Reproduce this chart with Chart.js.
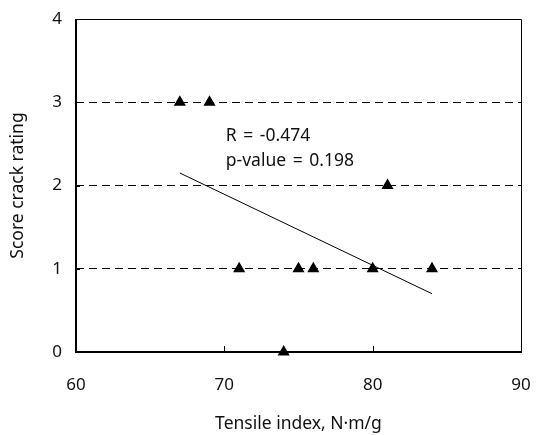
<!DOCTYPE html>
<html>
<head>
<meta charset="utf-8">
<script src="https://cdn.jsdelivr.net/npm/chart.js@4"></script>
<style>
  html, body { margin: 0; padding: 0; background: #fff; }
  #wrap { width: 541px; height: 435px; }
</style>
</head>
<body>
<div id="wrap"><canvas id="chart"></canvas></div>
<script>
// data
var tensile = [67, 69, 71, 74, 75, 76, 80, 81, 84];
var score = [3, 3, 1, 0, 1, 1, 1, 2, 1];
var fitX = [67, 84];
var fitY = [2.15, 0.70];
var xTicks = [60, 70, 80, 90];
var yTicks = [0, 1, 2, 3, 4];
var statLines = ['R = -0.474', 'p-value = 0.198'];

var FONT = '"Noto Sans", "DejaVu Sans", sans-serif';

var points = tensile.map(function(x, i) { return { x: x, y: score[i] }; });
var fit = fitX.map(function(x, i) { return { x: x, y: fitY[i] }; });

// frame, inward ticks and the R / p-value note
var extras = {
    id: 'extras',
    beforeDatasetsDraw: function(chart) {
        var c = chart.ctx, a = chart.chartArea, xs = chart.scales.x, ys = chart.scales.y;
        c.save();
        c.strokeStyle = '#000';
        c.lineWidth = 1;
        c.beginPath();
        c.moveTo(a.left, a.top + 0.5);
        c.lineTo(a.right + 0.5, a.top + 0.5);
        c.lineTo(a.right + 0.5, a.bottom);
        c.stroke();
        xs.ticks.forEach(function(t) {
            var px = Math.round(xs.getPixelForValue(t.value)) + 0.5;
            c.beginPath();
            c.moveTo(px, a.bottom);
            c.lineTo(px, a.bottom - 6);
            c.stroke();
        });
        ys.ticks.forEach(function(t) {
            var py = Math.round(ys.getPixelForValue(t.value)) + 0.5;
            c.beginPath();
            c.moveTo(a.left, py);
            c.lineTo(a.left + 4, py);
            c.stroke();
        });
        c.lineWidth = 2;
        c.beginPath();
        c.moveTo(a.left, a.top);
        c.lineTo(a.left, a.bottom);
        c.lineTo(a.right + 1, a.bottom);
        c.stroke();
        c.restore();
    },
    afterDraw: function(chart) {
        var c = chart.ctx, xs = chart.scales.x, ys = chart.scales.y;
        c.save();
        c.fillStyle = '#111';
        c.font = '17.5px ' + FONT;
        c.textBaseline = 'middle';
        c.textAlign = 'left';
        c.wordSpacing = '2px';
        var x0 = xs.getPixelForValue(70.1);
        var y0 = ys.getPixelForValue(2.6);
        statLines.forEach(function(s, i) {
            c.fillText(s, x0, y0 + i * 25);
        });
        c.restore();
    }
};

new Chart(document.getElementById('chart'), {
    type: 'scatter',
    data: {
        datasets: [{
            data: points,
            pointStyle: 'triangle',
            pointRadius: 7,
            pointHoverRadius: 7,
            backgroundColor: '#000',
            borderColor: '#000',
            borderWidth: 0,
            clip: false,
            order: 1
        }, {
            type: 'line',
            data: fit,
            borderColor: '#000',
            borderWidth: 1,
            pointRadius: 0,
            fill: false,
            order: 2
        }]
    },
    options: {
        responsive: true,
        maintainAspectRatio: false,
        animation: false,
        events: [],
        layout: { padding: { top: 19, right: 20, bottom: 0, left: 0 } },
        plugins: { legend: { display: false }, tooltip: { enabled: false } },
        scales: {
            x: {
                type: 'linear',
                min: 60, max: 90,
                afterBuildTicks: function(s) { s.ticks = xTicks.map(function(v) { return { value: v }; }); },
                afterFit: function(s) { s.height = 83; s.paddingLeft = 0; s.paddingRight = 0; },
                grid: { display: false, drawTicks: false },
                border: { display: false },
                ticks: { color: '#111', font: { size: 17, family: FONT }, padding: 23 },
                title: {
                    display: true,
                    text: 'Tensile index, N\u00b7m/g',
                    color: '#111',
                    font: { size: 17.5, family: FONT },
                    padding: { top: 0, bottom: 0 }
                }
            },
            y: {
                type: 'linear',
                min: 0, max: 4,
                afterBuildTicks: function(s) { s.ticks = yTicks.map(function(v) { return { value: v }; }); },
                afterFit: function(s) { s.width = 76; s.paddingTop = 0; s.paddingBottom = 0; },
                grid: {
                    drawTicks: false,
                    lineWidth: 1,
                    color: function(ctx) {
                        var v = ctx.tick && ctx.tick.value;
                        return (v === 0 || v === 4) ? 'rgba(0,0,0,0)' : '#000';
                    }
                },
                border: { display: false, dash: [8, 5] },
                ticks: { color: '#111', font: { size: 17, family: FONT }, padding: 14 },
                title: {
                    display: true,
                    text: 'Score crack rating',
                    color: '#111',
                    font: { size: 17.5, family: FONT },
                    padding: { top: 8, bottom: 0 }
                }
            }
        }
    },
    plugins: [extras]
});
</script>
</body>
</html>
